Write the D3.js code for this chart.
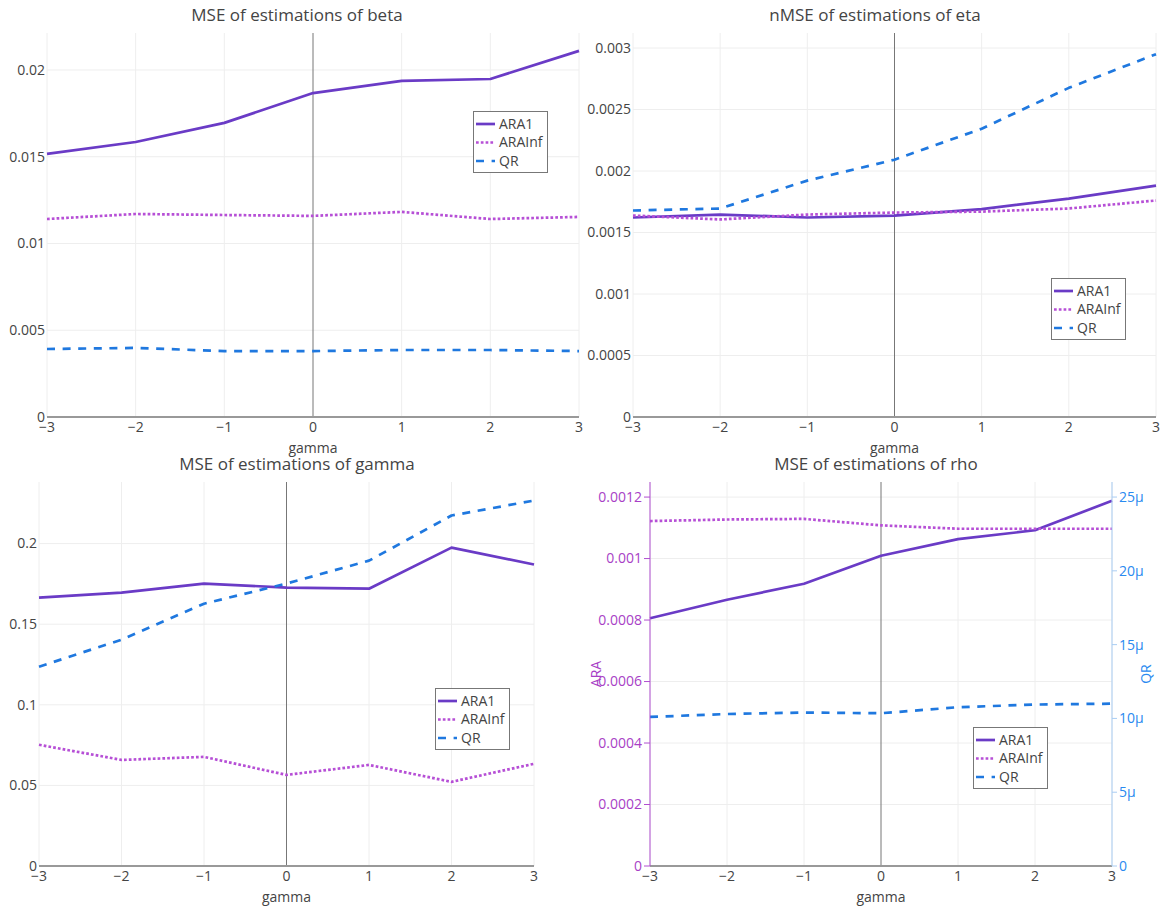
<!DOCTYPE html>
<html>
<head>
<meta charset="utf-8">
<script src="https://cdn.jsdelivr.net/npm/d3@7"></script>
<style>
  html, body { margin: 0; padding: 0; background: #fff; }
  svg { display: block; font-family: "Open Sans", "DejaVu Sans", sans-serif; }
</style>
</head>
<body>
<svg id="chart" width="1161" height="909"></svg>
<script>
// ---------- data ----------
const gammaValues = [-3, -2, -1, 0, 1, 2, 3];
const seriesNames = ["ARA1", "ARAInf", "QR"];
const xTicks = [-3, -2, -1, 0, 1, 2, 3];
const xTickLabels = ["\u22123", "\u22122", "\u22121", "0", "1", "2", "3"];

const betaARA1   = [0.01516, 0.01585, 0.01695, 0.01867, 0.01937, 0.01948, 0.0211];
const betaARAInf = [0.01141, 0.01170, 0.01164, 0.01159, 0.01182, 0.01141, 0.01153];
const betaQR     = [0.00392, 0.00398, 0.00380, 0.00380, 0.00386, 0.00386, 0.00380];
const betaTicks  = [0, 0.005, 0.01, 0.015, 0.02];
const betaTickLabels = ["0", "0.005", "0.01", "0.015", "0.02"];

const etaARA1   = [0.001622, 0.001646, 0.001622, 0.001638, 0.001690, 0.001776, 0.001881];
const etaARAInf = [0.001638, 0.001606, 0.001646, 0.001662, 0.001670, 0.001695, 0.001760];
const etaQR     = [0.001679, 0.001695, 0.001922, 0.002092, 0.002344, 0.002676, 0.002950];
const etaTicks  = [0, 0.0005, 0.001, 0.0015, 0.002, 0.0025, 0.003];
const etaTickLabels = ["0", "0.0005", "0.001", "0.0015", "0.002", "0.0025", "0.003"];

const gammaARA1   = [0.1665, 0.1696, 0.1752, 0.1727, 0.1720, 0.1975, 0.1870];
const gammaARAInf = [0.0752, 0.0658, 0.0677, 0.0565, 0.0627, 0.0522, 0.0634];
const gammaQR     = [0.1236, 0.1404, 0.1627, 0.1752, 0.1894, 0.2174, 0.2267];
const gammaTicks  = [0, 0.05, 0.1, 0.15, 0.2];
const gammaTickLabels = ["0", "0.05", "0.1", "0.15", "0.2"];

const rhoARA1   = [0.000806, 0.000866, 0.000918, 0.001009, 0.001063, 0.001092, 0.001188];
const rhoARAInf = [0.001122, 0.001127, 0.001129, 0.001108, 0.001097, 0.001097, 0.001097];
const rhoQR     = [10.1e-6, 10.3e-6, 10.4e-6, 10.35e-6, 10.76e-6, 10.94e-6, 11.0e-6];
const rhoTicks  = [0, 0.0002, 0.0004, 0.0006, 0.0008, 0.001, 0.0012];
const rhoTickLabels = ["0", "0.0002", "0.0004", "0.0006", "0.0008", "0.001", "0.0012"];
const rhoQRTicks = [0, 5e-6, 10e-6, 15e-6, 20e-6, 25e-6];
const rhoQRTickLabels = ["0", "5\u03bc", "10\u03bc", "15\u03bc", "20\u03bc", "25\u03bc"];

// ---------- styles ----------
const colors = { ARA1: "#6a3bc6", ARAInf: "#b64fd6", QR: "#1f78df" };
const dashes = { ARA1: null, ARAInf: "2.7,2.1", QR: "8,7.6" };
const lineW = 2.7;
const textColor = "#444";
const gridColor = "#eeeeee";

const svg = d3.select("#chart");
svg.append("rect").attr("width", 1161).attr("height", 909).attr("fill", "#fff");

const panels = [
  { title: "MSE of estimations of beta", titleX: 297, box: [47, 33, 579, 417], yMax: 0.02213,
    data: [betaARA1, betaARAInf, betaQR], ticks: betaTicks, tickLabels: betaTickLabels,
    legend: [473, 111] },
  { title: "nMSE of estimations of eta", titleX: 875, box: [633, 33, 1156, 417], yMax: 0.003122,
    data: [etaARA1, etaARAInf, etaQR], ticks: etaTicks, tickLabels: etaTickLabels,
    legend: [1051, 278] },
  { title: "MSE of estimations of gamma", titleX: 297, box: [39, 482, 534, 866], yMax: 0.2382,
    data: [gammaARA1, gammaARAInf, gammaQR], ticks: gammaTicks, tickLabels: gammaTickLabels,
    legend: [435, 688] },
  { title: "MSE of estimations of rho", titleX: 876, box: [650, 482, 1112, 866], yMax: 0.001249,
    data: [rhoARA1, rhoARAInf, rhoQR], ticks: rhoTicks, tickLabels: rhoTickLabels,
    legend: [973, 727], dual: true, y2Max: 26.02e-6 }
];

panels.forEach(p => {
  const [x0, y0, x1, y1] = p.box;
  const g = svg.append("g");
  const x = d3.scaleLinear().domain([-3, 3]).range([x0, x1]);
  const y = d3.scaleLinear().domain([0, p.yMax]).range([y1, y0]);
  const y2 = p.dual ? d3.scaleLinear().domain([0, p.y2Max]).range([y1, y0]) : null;
  const leftColor = p.dual ? "#a83fc6" : textColor;

  // grid lines
  g.append("g").selectAll("line.vg").data(xTicks.filter(d => d !== 0)).join("line")
    .attr("x1", d => x(d)).attr("x2", d => x(d)).attr("y1", y0).attr("y2", y1)
    .attr("stroke", gridColor).attr("stroke-width", 1);
  g.append("g").selectAll("line.hg").data(p.ticks.filter(d => d !== 0)).join("line")
    .attr("x1", x0).attr("x2", x1).attr("y1", d => y(d)).attr("y2", d => y(d))
    .attr("stroke", gridColor).attr("stroke-width", 1);

  // zero line (vertical)
  g.append("line").attr("x1", x(0)).attr("x2", x(0)).attr("y1", y0).attr("y2", y1)
    .attr("stroke", "#777").attr("stroke-width", 1);

  // series
  const line = (sc) => d3.line().x((d, i) => x(gammaValues[i])).y(d => sc(d));
  seriesNames.forEach((name, k) => {
    const sc = (p.dual && name === "QR") ? y2 : y;
    g.append("path").datum(p.data[k])
      .attr("d", line(sc))
      .attr("fill", "none")
      .attr("stroke", colors[name])
      .attr("stroke-width", lineW)
      .attr("stroke-dasharray", dashes[name])
      .attr("stroke-linejoin", "round");
  });

  // baseline
  g.append("line").attr("x1", x0).attr("x2", x1).attr("y1", y1).attr("y2", y1)
    .attr("stroke", "#999").attr("stroke-width", 1.8);

  // x tick labels
  g.append("g").selectAll("text").data(xTicks).join("text")
    .attr("x", d => x(d)).attr("y", y1 + 15)
    .attr("text-anchor", "middle").attr("font-size", 14).attr("fill", textColor)
    .text((d, i) => xTickLabels[i]);

  // y tick labels
  if (p.dual) {
    g.append("line").attr("x1", x0).attr("x2", x0).attr("y1", y0).attr("y2", y1)
      .attr("stroke", "#b04fd0").attr("stroke-width", 1);
    g.append("line").attr("x1", x1).attr("x2", x1).attr("y1", y0).attr("y2", y1)
      .attr("stroke", "#a9cdf3").attr("stroke-width", 1);
    g.append("g").selectAll("line").data(p.ticks).join("line")
      .attr("x1", x0 - 6).attr("x2", x0).attr("y1", d => y(d)).attr("y2", d => y(d))
      .attr("stroke", "#b04fd0").attr("stroke-width", 1);
    g.append("g").selectAll("line").data(rhoQRTicks).join("line")
      .attr("x1", x1).attr("x2", x1 + 5).attr("y1", d => y2(d)).attr("y2", d => y2(d))
      .attr("stroke", "#a9cdf3").attr("stroke-width", 1);
    g.append("g").selectAll("text").data(rhoQRTicks).join("text")
      .attr("x", x1 + 7).attr("y", d => y2(d)).attr("dy", "0.35em")
      .attr("text-anchor", "start").attr("font-size", 14).attr("fill", "#2a8af0")
      .text((d, i) => rhoQRTickLabels[i]);
    g.append("text")
      .attr("transform", `translate(${x0 - 54},${(y0 + y1) / 2}) rotate(-90)`)
      .attr("text-anchor", "middle").attr("dy", "0.35em")
      .attr("font-size", 14).attr("fill", "#a83fc6").text("ARA");
    g.append("text")
      .attr("transform", `translate(${x1 + 34},${(y0 + y1) / 2}) rotate(-90)`)
      .attr("text-anchor", "middle").attr("dy", "0.35em")
      .attr("font-size", 14).attr("fill", "#2a8af0").text("QR");
  }
  g.append("g").selectAll("text").data(p.ticks).join("text")
    .attr("x", p.dual ? x0 - 8 : x0 - 2).attr("y", d => y(d)).attr("dy", "0.35em")
    .attr("text-anchor", "end").attr("font-size", 14).attr("fill", leftColor)
    .text((d, i) => p.tickLabels[i]);

  // axis title
  g.append("text").attr("x", (x0 + x1) / 2).attr("y", y1 + 36)
    .attr("text-anchor", "middle").attr("font-size", 14).attr("fill", textColor)
    .text("gamma");

  // panel title
  g.append("text").attr("x", p.titleX).attr("y", y0 - 12)
    .attr("text-anchor", "middle").attr("font-size", 17).attr("fill", textColor)
    .text(p.title);

  // legend
  const [lx, ly] = p.legend;
  const lg = g.append("g").attr("transform", `translate(${lx},${ly})`);
  lg.append("rect").attr("x", 0.5).attr("y", 0.5).attr("width", 74).attr("height", 61)
    .attr("fill", "#fff").attr("stroke", "#777").attr("stroke-width", 1);
  seriesNames.forEach((name, k) => {
    const ry = 13 + k * 18.5;
    lg.append("line").attr("x1", 3).attr("x2", 22).attr("y1", ry).attr("y2", ry)
      .attr("stroke", colors[name]).attr("stroke-width", lineW)
      .attr("stroke-dasharray", dashes[name]);
    lg.append("text").attr("x", 26).attr("y", ry).attr("dy", "0.35em")
      .attr("font-size", 14).attr("fill", textColor).text(name);
  });
});
</script>
</body>
</html>
